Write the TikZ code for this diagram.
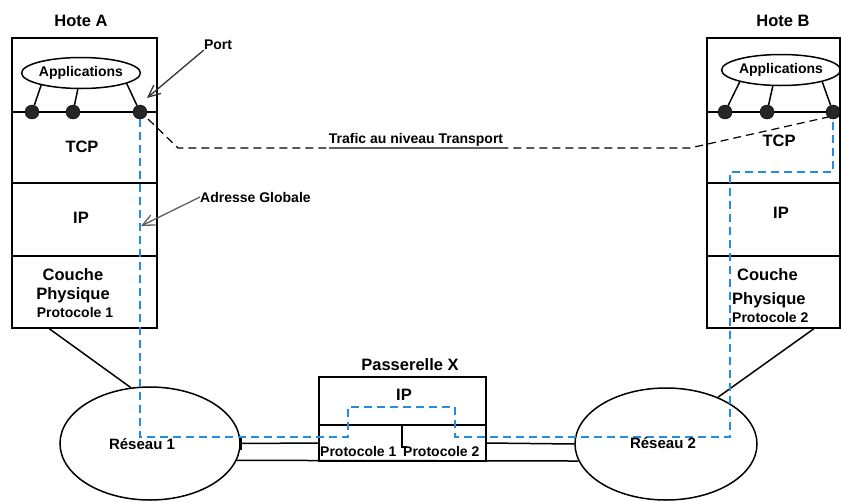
\documentclass[tikz,border=0pt]{standalone}
\usepackage{fontspec}
\setmainfont{Liberation Sans}
\usetikzlibrary{shapes.geometric,arrows.meta,calc}
\definecolor{netblue}{RGB}{38,140,225}
\definecolor{leadgray}{RGB}{95,95,95}
\newcommand\hdrfont{\fontsize{16.5}{18.5}\selectfont\bfseries}
\newcommand\lblfont{\fontsize{14}{17}\selectfont\bfseries}
\newcommand\netfont{\fontsize{15}{17}\selectfont\bfseries}
\begin{document}
\begin{tikzpicture}[x=1pt,y=-1pt,
  layerbox/.style={draw, line width=1.5pt, inner sep=0pt, rectangle},
  hdr/.style={font=\hdrfont, inner sep=0pt},
  lbl/.style={font=\lblfont, inner sep=0pt},
  appl/.style={draw, ellipse, line width=1.5pt, inner sep=0pt, minimum height=31pt, font=\lblfont},
  sap/.style={circle, fill=black!85, draw=black, minimum size=14pt, inner sep=0pt},
  wire/.style={line width=1.5pt},
  netw/.style={draw, ellipse, line width=1.5pt, inner sep=0pt},
  transport/.style={line width=1.2pt, dash pattern=on 8pt off 5pt},
  ippath/.style={line width=1.6pt, draw=netblue, dash pattern=on 8pt off 5pt},
  pointer/.style={line width=1.3pt, -{Straight Barb[length=12pt,width=11pt,line width=1.3pt]}}
]
\useasboundingbox (0,0) rectangle (841,501);

% ---------- Host A ----------
\node[hdr] (hostA) at (81,21) {Hote A};
\node[layerbox, minimum width=145pt, minimum height=74pt] (aApp) at (84.5,75) {};
\node[layerbox, minimum width=145pt, minimum height=71pt] (aTCP) at (84.5,147.5) {};
\node[layerbox, minimum width=145pt, minimum height=73pt] (aIP) at (84.5,219.5) {};
\node[layerbox, minimum width=145pt, minimum height=72pt] (aPhy) at (84.5,292) {};
\node[hdr] (aTCPt) at (82,147) {TCP};
\node[hdr] (aIPt) at (81,218) {IP};
\node[hdr] (aPhy1) at (73,275) {Couche};
\node[hdr, anchor=base] (aPhy2) at (73,299) {Physique};
\node[lbl] (aPhy3) at (75,312) {Protocole 1};

\node[appl, minimum width=115pt] (aApps) at (81,73) {Applications};
\node[sap] (aP1) at (32,112) {};
\node[sap] (aP2) at (73,112) {};
\node[sap] (aP3) at (140,112) {};
\draw[wire] (aApps.197) -- (aP1);
\draw[wire] (aApps.259) -- (aP2);
\draw[wire] (aApps.347) -- (aP3);

% ---------- Host B ----------
\node[hdr] (hostB) at (783,21) {Hote B};
\node[layerbox, minimum width=133pt, minimum height=74pt] (bApp) at (773.5,75) {};
\node[layerbox, minimum width=133pt, minimum height=71pt] (bTCP) at (773.5,147.5) {};
\node[layerbox, minimum width=133pt, minimum height=73pt] (bIP) at (773.5,219.5) {};
\node[layerbox, minimum width=133pt, minimum height=72pt] (bPhy) at (773.5,292) {};
\node[hdr] (bTCPt) at (779,141) {TCP};
\node[hdr] (bIPt) at (781,213) {IP};
\node[hdr, anchor=west] (bPhy1) at (737,275) {Couche};
\node[hdr, anchor=base west] (bPhy2) at (732,304) {Physique};
\node[lbl, anchor=west] (bPhy3) at (732,317) {Protocole 2};

\node[appl, minimum width=112pt] (bApps) at (781,70) {Applications};
\node[sap] (bP1) at (725,112) {};
\node[sap] (bP2) at (767,112) {};
\node[sap] (bP3) at (833,112) {};
\draw[wire] (bApps.196) -- (bP1);
\draw[wire] (bApps.243) -- (bP2);
\draw[wire] (bApps.344) -- (bP3);

% ---------- Networks ----------
\node[netw, minimum width=180pt, minimum height=113pt] (r1) at (150,443.5) {};
\node[font=\netfont, inner sep=0pt] (r1t) at (142,444) {Réseau 1};
\node[netw, minimum width=182pt, minimum height=112pt] (r2) at (666,444) {};

\draw[wire] ($(aPhy.south west)!0.26!(aPhy.south east)$) -- (r1.109);
\draw[wire] ($(bPhy.south west)!0.8!(bPhy.south east)$) -- (r2.42.6);

% ---------- Gateway ----------
\node[hdr] (gwt) at (410,365) {Passerelle X};
\node[layerbox, minimum width=167pt, minimum height=48pt] (gIP) at (402.5,401) {};
\node[layerbox, minimum width=167pt, minimum height=36pt] (gLow) at (402.5,443) {};
\node[hdr] (gIPt) at (404,395) {IP};
\draw[wire] (402,425) -- (402,447) -- (407,447);
\node[lbl, anchor=west] (gPr1) at (320,451) {Protocole 1};
\node[lbl, anchor=west] (gPr2) at (403,451) {Protocole 2};

\draw[wire] (r1.east) -- (gLow.west);
\draw[wire] ($(r1.east)+(0,-6)$) -- ($(r1.east)+(0,6)$);
\draw[wire] (gLow.east) -- (r2.west);
\draw[wire] (r1.-11.6) -- (r2.191.1);

% ---------- Transport-level traffic ----------
\coordinate (tA) at (178,148);
\coordinate (tB) at (690,148);
\draw[transport] ($(aP3.south east)+(3,2)$) -- (tA) -- (tB) -- (bP3.south west);
\node[lbl, anchor=base] (traf) at (416,143) {Trafic au niveau Transport};
\draw[line width=1.6pt, leadgray] (traf.west |- tA) -- (traf.east |- tA);

% ---------- IP route across the networks ----------
\coordinate (in1) at (348,437);
\coordinate (ipL) at (348,407);
\coordinate (ipR) at (455,407);
\coordinate (out1) at (455,437);
\coordinate (bUp) at (730,437);
\coordinate (bTurn) at (730,172);
\draw[ippath] (aP3.south) |- (in1) -- (ipL) -- (ipR) -- (out1) -- (bUp) -- (bTurn) -| (bP3.south);

\node[font=\netfont, inner sep=0pt] (r2t) at (663,443) {Réseau 2};

% ---------- Annotations ----------
\node[lbl] (portl) at (218,45) {Port};
\coordinate (portTip) at (147,98);
\draw[pointer, black!80] (portl.south west) -- (portTip);
\node[lbl, anchor=west] (addrl) at (200,197) {Adresse Globale};
\coordinate (addrTip) at (141,226);
\draw[pointer, leadgray] (addrl.west) -- (addrTip);
\end{tikzpicture}
\end{document}
